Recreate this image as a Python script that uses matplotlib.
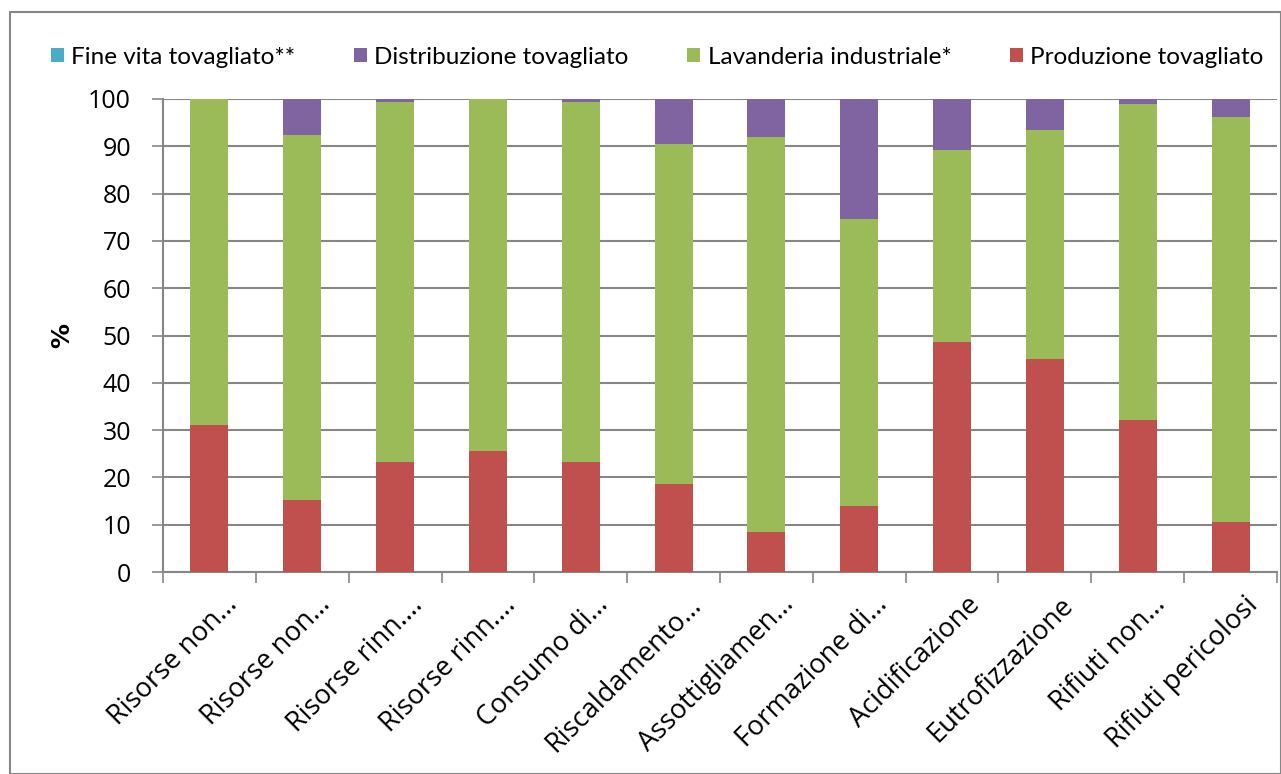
import numpy as np
import matplotlib.pyplot as plt
from matplotlib.patches import Rectangle

# categorie di impatto (etichette troncate come nel grafico originale)
categorie = ["Risorse non…", "Risorse non…", "Risorse rinn.…", "Risorse rinn.…",
             "Consumo di…", "Riscaldamento…", "Assottigliamen…", "Formazione di…",
             "Acidificazione", "Eutrofizzazione", "Rifiuti non…", "Rifiuti pericolosi"]

# contributi percentuali per fase
produzione = [31.0, 15.2, 23.3, 25.6, 23.3, 18.6, 8.5, 14.0, 48.6, 45.0, 32.1, 10.6]
lavanderia = [68.9, 77.2, 76.0, 74.3, 76.0, 71.9, 83.5, 60.6, 40.6, 48.4, 66.8, 85.7]
distribuzione = [0.0, 7.5, 0.6, 0.0, 0.6, 9.4, 7.9, 25.3, 10.7, 6.5, 1.0, 3.6]
fine_vita = [0.1, 0.1, 0.1, 0.1, 0.1, 0.1, 0.1, 0.1, 0.1, 0.1, 0.1, 0.1]

col_prod = "#C0504D"
col_lav = "#9BBB59"
col_dist = "#8064A2"
col_fine = "#4BACC6"
grigio = "#868686"

plt.rcParams['font.family'] = ['Open Sans', 'DejaVu Sans']

fig = plt.figure(figsize=(12.81, 7.74), dpi=100)
ax = fig.add_axes([163 / 1281, 1 - 572 / 774, (1277 - 163) / 1281, (572 - 99) / 774])

# cornice esterna del grafico
fig.patches.append(Rectangle((10 / 1281, 0), 1 - 10 / 1281, 1 - 12 / 774,
                             transform=fig.transFigure, fill=False,
                             edgecolor=grigio, linewidth=1.5))

x = np.arange(len(categorie))
w = 0.41
base = np.zeros(len(categorie))
serie = [(produzione, col_prod, "Produzione tovagliato"),
         (lavanderia, col_lav, "Lavanderia industriale*"),
         (distribuzione, col_dist, "Distribuzione tovagliato"),
         (fine_vita, col_fine, "Fine vita tovagliato**")]
barre = {}
for vals, c, nome in serie:
    barre[nome] = ax.bar(x, vals, w, bottom=base, color=c, label=nome, zorder=3)
    base = base + np.array(vals)

ax.set_xlim(-0.5, len(categorie) - 0.5)
ax.set_ylim(0, 100)
ax.set_yticks(np.arange(0, 101, 10))
ax.yaxis.grid(True, color=grigio, linewidth=1.5, zorder=0)
ax.set_axisbelow(True)

for s in ["top", "right"]:
    ax.spines[s].set_visible(False)
for s in ["left", "bottom"]:
    ax.spines[s].set_color(grigio)
    ax.spines[s].set_linewidth(1.5)

# tacche dell'asse x ai confini delle categorie
ax.set_xticks(np.arange(len(categorie) + 1) - 0.5)
ax.set_xticklabels([])
ax.tick_params(axis="x", length=8, width=1.2, color=grigio)
ax.tick_params(axis="y", length=8, width=1.2, color=grigio, labelsize=18, pad=15)

for i, lab in enumerate(categorie):
    ax.text(i + 0.15, -4.0, lab, rotation=45, ha="right", va="top",
            rotation_mode="anchor", fontsize=19.5)

ax.set_ylabel("%", fontsize=18, fontweight="bold", family="DejaVu Sans")
ax.yaxis.set_label_coords(-0.080, 0.5)

ordine = ["Fine vita tovagliato**", "Distribuzione tovagliato",
          "Lavanderia industriale*", "Produzione tovagliato"]
fig.legend([barre[n] for n in ordine], ordine, loc="center",
           bbox_to_anchor=(0.513, 1 - 57 / 774), ncol=4, frameon=False,
           prop={"family": ["Lato", "DejaVu Sans"], "size": 17.5},
           handlelength=0.55, handleheight=0.55, handletextpad=0.3,
           columnspacing=2.4)

fig.savefig("out.png", dpi=100)
